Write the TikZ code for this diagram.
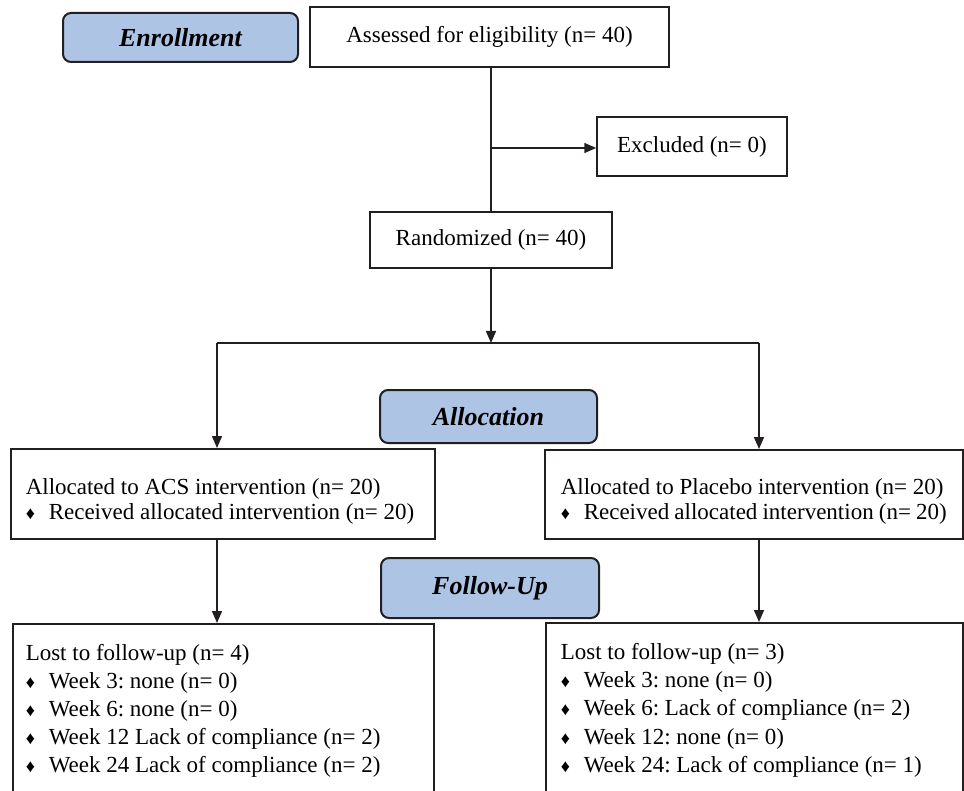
\documentclass[tikz,border=0pt]{standalone}
\usepackage{fontspec}
\setmainfont{Liberation Serif}
\usetikzlibrary{arrows.meta}
\definecolor{stageblue}{RGB}{174,196,229}
\definecolor{ink}{RGB}{35,31,32}
\newcommand{\dia}{\makebox[1em][l]{\small ♦}}
\newcommand{\tallstrut}{\rule{0pt}{15.5pt}}
\frenchspacing
\begin{document}
\begin{tikzpicture}[x=0.5pt,y=-0.5pt,
    box/.style={draw=ink,line width=0.75pt,inner sep=0pt,font=\fontsize{11.5}{12.5}\selectfont},
    listbox/.style={box,anchor=north west,align=flush left,font=\fontsize{11.5}{14.1}\selectfont\frenchspacing},
    stage/.style={draw=ink,line width=1pt,fill=stageblue,rounded corners=4pt,inner sep=0pt,
      font=\fontsize{13}{15}\selectfont\bfseries\itshape}]
  \useasboundingbox (0,0) rectangle (964,791);
  % stages
  \node[stage,minimum width=117.5pt,minimum height=24.5pt] (enroll) at (180.5,37.5) {Enrollment};
  \node[stage,minimum width=108.5pt,minimum height=26.5pt] (alloc) at (488.5,416.5) {Allocation};
  \node[stage,minimum width=109pt,minimum height=30pt] (follow) at (490,588) {Follow-Up};
  % boxes
  \node[box,minimum width=179.5pt,minimum height=30pt] (assess) at (489.5,37) {Assessed for eligibility (n= 40)};
  \node[box,minimum width=95pt,minimum height=29.5pt] (excl) at (692,146.5) {Excluded (n= 0)};
  \node[box,minimum width=121pt,minimum height=28pt] (rand) at (491,240) {Randomized (n= 40)};
  \node[listbox,inner xsep=7.5pt,text width=197pt,minimum height=45pt,
    font=\fontsize{11.5}{12.5}\selectfont] (acs) at (10,448)
    {\tallstrut Allocated to ACS intervention (n= 20)\\ \dia Received allocated intervention (n= 20)};
  \node[listbox,inner xsep=8pt,text width=193pt,minimum height=44.5pt,
    font=\fontsize{11.5}{12.5}\selectfont] (plc) at (544,449)
    {\tallstrut Allocated to Placebo intervention (n= 20)\\ \dia Received allocated intervention (n= 20)};
  \node[listbox,inner xsep=6.5pt,text width=197.5pt,minimum height=87pt] (lostA) at (12,623)
    {Lost to follow-up (n= 4)\\ \dia Week 3: none (n= 0)\\ \dia Week 6: none (n= 0)\\
     \dia Week 12 Lack of compliance (n= 2)\\ \dia Week 24 Lack of compliance (n= 2)};
  \node[listbox,inner xsep=7.5pt,text width=193.5pt,minimum height=87.5pt] (lostP) at (545,622)
    {Lost to follow-up (n= 3)\\ \dia Week 3: none (n= 0)\\ \dia Week 6: Lack of compliance (n= 2)\\
     \dia Week 12: none (n= 0)\\ \dia Week 24: Lack of compliance (n= 1)};
  \coordinate (mid) at (491,148);
  \coordinate (split) at (491,343);
  \coordinate (left) at (217,343);
  \coordinate (right) at (759,343);
  \begin{scope}[draw=ink,line width=0.75pt,-{Triangle[length=6pt,width=5pt]}]
    \draw[-] (assess.south -| mid) -- (rand.north -| mid);
    \draw (mid) -- (mid -| excl.west);
    \draw (rand.south -| split) -- (split);
    \draw[-] (left) -- (right);
    \draw (left) -- (left |- acs.north);
    \draw (right) -- (right |- plc.north);
    \draw (acs.south -| left) -- (lostA.north -| left);
    \draw (plc.south -| right) -- (lostP.north -| right);
  \end{scope}
\end{tikzpicture}
\end{document}
